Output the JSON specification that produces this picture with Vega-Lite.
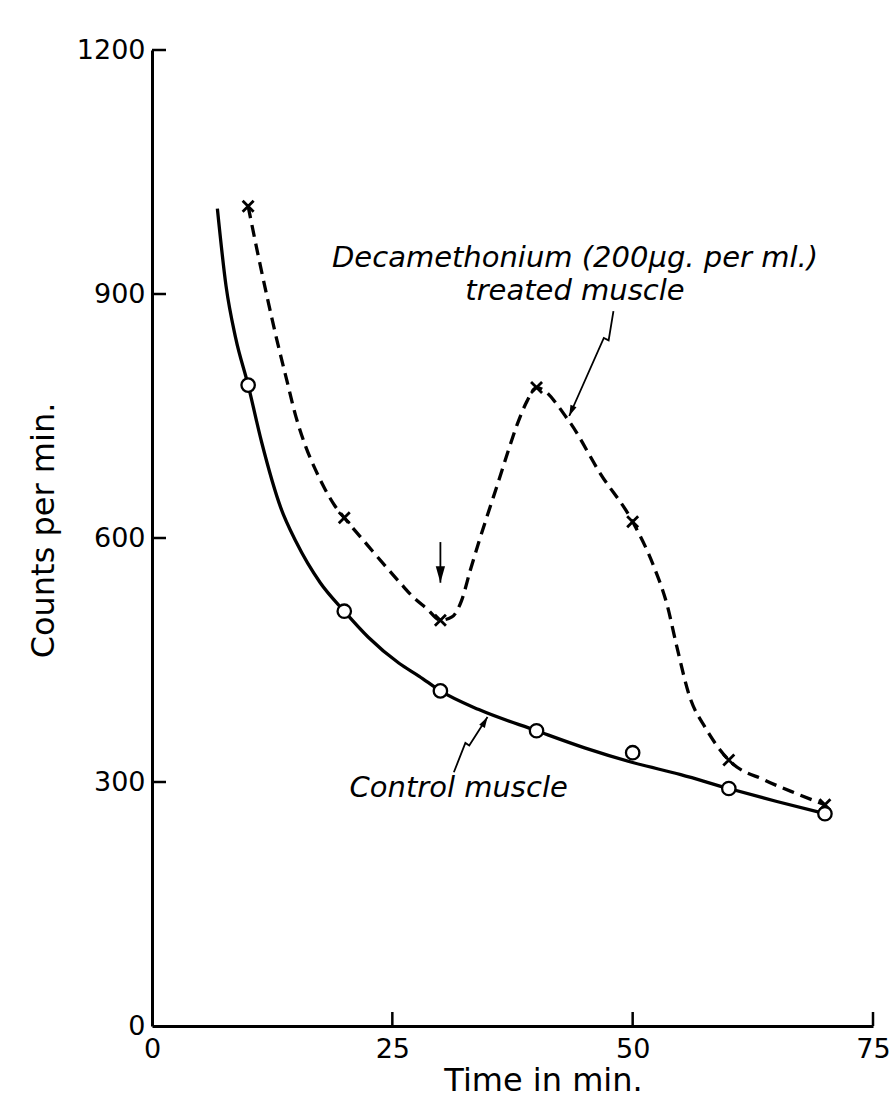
{
  "$schema": "https://vega.github.io/schema/vega-lite/v6.json",
  "width": 721,
  "height": 976,
  "autosize": {"type": "none"},
  "padding": {"left": 152, "top": 50, "right": 18, "bottom": 91},
  "background": "white",
  "config": {
    "view": {"stroke": null},
    "font": "DejaVu Sans",
    "axis": {
      "domainColor": "black",
      "domainWidth": 3,
      "ticks": false,
      "grid": false,
      "labelColor": "black",
      "labelFont": "DejaVu Sans",
      "labelFontSize": 27,
      "titleColor": "black",
      "titleFont": "DejaVu Sans",
      "titleFontSize": 32,
      "titleFontWeight": "normal"
    }
  },
  "datasets": {
    "control_pts": [
      {"t": 10, "counts": 788}, {"t": 20, "counts": 510}, {"t": 30, "counts": 412},
      {"t": 40, "counts": 363}, {"t": 50, "counts": 336}, {"t": 60, "counts": 292},
      {"t": 70, "counts": 261}
    ],
    "treated_pts": [
      {"t": 10, "counts": 1008}, {"t": 20, "counts": 625}, {"t": 30, "counts": 499},
      {"t": 40, "counts": 785}, {"t": 50, "counts": 620}, {"t": 60, "counts": 327},
      {"t": 70, "counts": 272}
    ],
    "control_curve": [
      {"t": 6.8, "counts": 1005}, {"t": 7.7, "counts": 910}, {"t": 8.7, "counts": 846},
      {"t": 10, "counts": 788}, {"t": 11.4, "counts": 718}, {"t": 13.4, "counts": 637},
      {"t": 15, "counts": 595}, {"t": 17.5, "counts": 545}, {"t": 20, "counts": 510},
      {"t": 22.5, "counts": 478}, {"t": 25.7, "counts": 446}, {"t": 27.8, "counts": 430},
      {"t": 30, "counts": 412}, {"t": 34, "counts": 389}, {"t": 40, "counts": 363},
      {"t": 45, "counts": 342}, {"t": 50, "counts": 324}, {"t": 55, "counts": 309},
      {"t": 60, "counts": 292}, {"t": 65, "counts": 276}, {"t": 70, "counts": 261}
    ],
    "treated_curve": [
      {"t": 10, "counts": 1008}, {"t": 11, "counts": 950}, {"t": 12, "counts": 895},
      {"t": 13, "counts": 843}, {"t": 14, "counts": 795}, {"t": 15, "counts": 748},
      {"t": 16, "counts": 712}, {"t": 17, "counts": 684}, {"t": 18, "counts": 660},
      {"t": 19, "counts": 640}, {"t": 20, "counts": 625}, {"t": 22.5, "counts": 590},
      {"t": 25.8, "counts": 545}, {"t": 27.2, "counts": 527}, {"t": 28.6, "counts": 513},
      {"t": 30, "counts": 499}, {"t": 31.2, "counts": 503}, {"t": 32.2, "counts": 523},
      {"t": 33.1, "counts": 560}, {"t": 34, "counts": 595}, {"t": 35, "counts": 632},
      {"t": 36, "counts": 668}, {"t": 37, "counts": 705}, {"t": 38, "counts": 740},
      {"t": 39, "counts": 768}, {"t": 40, "counts": 785}, {"t": 43.3, "counts": 745},
      {"t": 46.7, "counts": 678}, {"t": 50, "counts": 620}, {"t": 52.2, "counts": 565},
      {"t": 53.6, "counts": 517}, {"t": 54.6, "counts": 466}, {"t": 55.9, "counts": 406},
      {"t": 57.6, "counts": 366}, {"t": 60, "counts": 327}, {"t": 63.8, "counts": 302},
      {"t": 67.2, "counts": 285}, {"t": 70, "counts": 272}
    ],
    "leaders": [
      {"id": "control", "t": 31.4, "counts": 312},
      {"id": "control", "t": 33.0, "counts": 345},
      {"id": "control", "t": 32.6, "counts": 348},
      {"id": "control", "t": 34.9, "counts": 380},
      {"id": "treated", "t": 48.0, "counts": 879},
      {"id": "treated", "t": 47.0, "counts": 846},
      {"id": "treated", "t": 47.5, "counts": 843},
      {"id": "treated", "t": 43.4, "counts": 750},
      {"id": "added", "t": 30, "counts": 595},
      {"id": "added", "t": 30, "counts": 545}
    ],
    "notes": [
      {"label": "Decamethonium (200μg. per ml.)", "t": 44.0, "counts": 933},
      {"label": "treated muscle", "t": 44.0, "counts": 893},
      {"label": "Control muscle", "t": 31.9, "counts": 282}
    ],
    "y_ticks": [{"counts": 300}, {"counts": 600}, {"counts": 900}, {"counts": 1200}],
    "x_ticks": [{"t": 25}, {"t": 50}, {"t": 75}]
  },
  "layer": [
    {
      "data": {"name": "control_curve"},
      "mark": {"type": "line", "interpolate": "monotone", "color": "black", "strokeWidth": 3.3},
      "encoding": {
        "x": {
          "field": "t",
          "type": "quantitative",
          "scale": {"domain": [0, 75], "nice": false, "zero": true},
          "axis": {
            "title": "Time in min.",
            "values": [0, 25, 50, 75],
            "labelPadding": 10,
            "labelFlush": false,
            "titleX": 391,
            "titleY": 64,
            "titleBaseline": "alphabetic"
          }
        },
        "y": {
          "field": "counts",
          "type": "quantitative",
          "scale": {"domain": [0, 1200], "nice": false},
          "axis": {
            "title": "Counts per min.",
            "values": [0, 300, 600, 900, 1200],
            "format": "d",
            "labelPadding": 7,
            "labelFlush": false,
            "titleX": -99,
            "titleY": 480,
            "titleBaseline": "alphabetic"
          }
        }
      }
    },
    {
      "data": {"name": "y_ticks"},
      "mark": {"type": "point", "shape": "M0,0L1,0", "size": 784, "filled": false, "stroke": "black", "strokeWidth": 2.5, "opacity": 1},
      "encoding": {
        "x": {"datum": 0, "type": "quantitative"},
        "y": {"field": "counts", "type": "quantitative"}
      }
    },
    {
      "data": {"name": "x_ticks"},
      "mark": {"type": "point", "shape": "M0,0L0,-1", "size": 784, "filled": false, "stroke": "black", "strokeWidth": 2.5, "opacity": 1},
      "encoding": {
        "x": {"field": "t", "type": "quantitative"},
        "y": {"datum": 0, "type": "quantitative"}
      }
    },
    {
      "data": {"name": "treated_curve"},
      "mark": {"type": "line", "interpolate": "monotone", "color": "black", "strokeWidth": 3.3, "strokeDash": [12, 7]},
      "encoding": {
        "x": {"field": "t", "type": "quantitative"},
        "y": {"field": "counts", "type": "quantitative"}
      }
    },
    {
      "data": {"name": "leaders"},
      "mark": {"type": "line", "color": "black", "strokeWidth": 1.8},
      "encoding": {
        "x": {"field": "t", "type": "quantitative"},
        "y": {"field": "counts", "type": "quantitative"},
        "detail": {"field": "id"}
      }
    },
    {
      "data": {"values": [{"t": 30, "counts": 545}]},
      "mark": {"type": "point", "shape": "M0,0L-0.28,-1L0.28,-1Z", "size": 1100, "filled": true, "color": "black", "opacity": 1},
      "encoding": {
        "x": {"field": "t", "type": "quantitative"},
        "y": {"field": "counts", "type": "quantitative"}
      }
    },
    {
      "data": {"values": [{"t": 34.9, "counts": 380}]},
      "mark": {"type": "point", "shape": "M0,0L-0.3,-1L0.3,-1Z", "size": 480, "angle": 210, "filled": true, "color": "black", "opacity": 1},
      "encoding": {
        "x": {"field": "t", "type": "quantitative"},
        "y": {"field": "counts", "type": "quantitative"}
      }
    },
    {
      "data": {"values": [{"t": 43.4, "counts": 750}]},
      "mark": {"type": "point", "shape": "M0,0L-0.3,-1L0.3,-1Z", "size": 480, "angle": 23, "filled": true, "color": "black", "opacity": 1},
      "encoding": {
        "x": {"field": "t", "type": "quantitative"},
        "y": {"field": "counts", "type": "quantitative"}
      }
    },
    {
      "data": {"name": "treated_pts"},
      "mark": {"type": "point", "shape": "M-1,-1L1,1M-1,1L1,-1", "size": 121, "filled": false, "stroke": "black", "strokeWidth": 2.8, "opacity": 1},
      "encoding": {
        "x": {"field": "t", "type": "quantitative"},
        "y": {"field": "counts", "type": "quantitative"}
      }
    },
    {
      "data": {"name": "control_pts"},
      "mark": {"type": "point", "shape": "circle", "size": 180, "filled": true, "fill": "white", "stroke": "black", "strokeWidth": 2.3, "opacity": 1},
      "encoding": {
        "x": {"field": "t", "type": "quantitative"},
        "y": {"field": "counts", "type": "quantitative"}
      }
    },
    {
      "data": {"name": "notes"},
      "mark": {"type": "text", "font": "DejaVu Sans", "fontStyle": "italic", "fontSize": 29, "color": "black", "align": "center", "baseline": "alphabetic"},
      "encoding": {
        "x": {"field": "t", "type": "quantitative"},
        "y": {"field": "counts", "type": "quantitative"},
        "text": {"field": "label"}
      }
    }
  ]
}
